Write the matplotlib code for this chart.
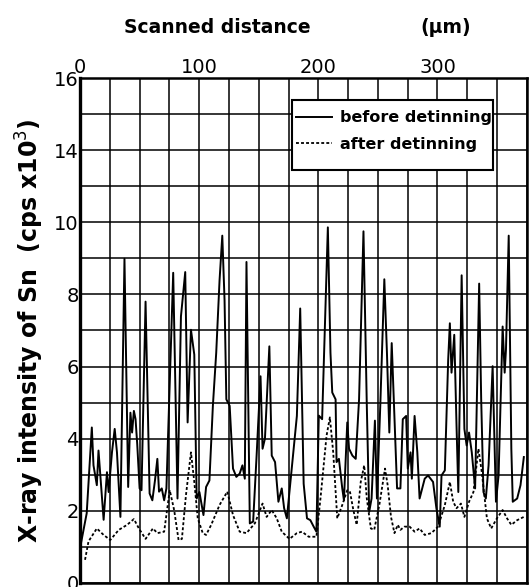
import matplotlib.pyplot as plt
from matplotlib.patches import Rectangle
import numpy as np

# scanned distance (um) and Sn intensity (cps x10^3)
x_before = [0, 5.6, 9.9, 11.3, 14.1, 15.5, 19.8, 22.6, 24.0, 26.8, 29.1, 31.0, 33.9, 37.3, 40.4,
            42.3, 43.7, 45.2, 46.6, 48.0, 50.0, 51.6, 55.0, 58.4, 60.7, 62.9, 64.9, 66.3, 68.6,
            70.6, 72.5, 78.2, 81.8, 84.7, 88.3, 90.3, 93.1, 95.9, 97.9, 100.2, 103.6, 105.8,
            108.6, 111.5, 114.3, 117.1, 119.4, 121.3, 122.8, 125.6, 128.4, 131.2, 134.0, 136.3,
            138.3, 139.7, 142.5, 145.3, 148.2, 151.5, 153.2, 155.2, 158.9, 160.9, 163.7, 166.5,
            169.3, 171.3, 173.6, 182.0, 184.8, 187.7, 190.5, 193.3, 196.1, 198.4, 200.4, 203.2,
            208.0, 210.2, 211.7, 214.5, 215.3, 217.3, 220.1, 221.5, 224.3, 225.8, 228.6, 231.4,
            234.2, 237.9, 240.7, 242.7, 244.7, 247.5, 249.2, 252.0, 255.4, 257.6, 259.6, 261.6,
            263.9, 266.1, 268.9, 270.9, 273.7, 275.1, 277.4, 278.5, 280.8, 283.1, 285.0, 289.3,
            292.1, 296.3, 299.1, 301.9, 303.4, 306.2, 309.0, 310.4, 311.8, 314.1, 316.0, 317.5,
            320.3, 322.6, 324.5, 326.5, 328.8, 331.6, 335.0, 336.7, 338.6, 340.6, 342.9, 346.3,
            349.1, 351.3, 354.7, 356.4, 357.5, 359.8, 362.0, 363.2, 366.9, 369.7, 372.5]
y_before = [0.96, 1.93, 4.31, 3.26, 2.71, 3.67, 1.75, 3.07, 2.52, 3.62, 4.27, 3.62, 1.83, 8.99, 2.66,
            4.72, 4.17, 4.77, 4.54, 3.85, 2.62, 2.57, 7.80, 2.48, 2.29, 2.84, 3.44, 2.53, 2.62,
            2.29, 2.62, 8.60, 2.34, 7.39, 8.62, 4.45, 7.02, 6.33, 2.34, 2.52, 1.88, 2.66,
            2.84, 4.91, 6.38, 8.39, 9.63, 7.84, 5.09, 4.91, 3.17, 2.94, 3.03, 3.26,
            2.89, 8.90, 1.65, 1.70, 3.53, 5.73, 3.72, 4.00, 6.56, 3.53, 3.35, 2.25,
            2.62, 2.07, 1.79, 4.63, 7.61, 2.75, 1.79, 1.74, 1.56, 1.42, 4.64, 4.54,
            9.86, 6.38, 5.28, 5.09, 3.35, 3.44, 2.62, 2.29, 4.45, 3.72, 3.53, 3.44,
            5.09, 9.75, 4.91, 1.97, 2.34, 4.50, 2.34, 4.91, 8.42, 6.38, 4.17, 6.65,
            4.63, 2.62, 2.62, 4.54, 4.63, 3.17, 3.62, 2.89, 4.63, 3.62, 2.34, 2.89,
            2.98, 2.80, 2.07, 1.56, 2.98, 3.12, 6.19, 7.20, 5.83, 6.88, 4.36, 2.52,
            8.53, 4.27, 3.81, 4.17, 3.62, 2.62, 8.30, 5.09, 2.52, 2.34, 3.26, 6.01,
            2.25, 2.98, 7.11, 5.83, 6.47, 9.63, 3.72, 2.25, 2.34, 2.71, 3.49]

x_after = [4.2, 7.1, 14.1, 19.8, 25.4, 32.5, 39.5, 45.2, 49.4, 55.0, 61.2, 64.9, 70.6, 75.3, 79.0,
           82.7, 85.5, 88.9, 93.1, 95.9, 98.8, 103.0, 105.8, 110.1, 117.1, 123.6, 128.4, 134.0,
           139.7, 146.7, 153.2, 156.6, 160.9, 165.1, 169.3, 175.8, 182.0, 186.3, 191.9, 198.4,
           201.8, 206.9, 209.7, 212.5, 215.9, 220.1, 224.3, 226.6, 229.4, 232.2, 235.6, 238.5,
           240.7, 244.1, 246.9, 251.2, 256.0, 258.2, 261.0, 263.9, 266.7, 268.9, 272.3, 276.6,
           280.8, 285.0, 289.3, 294.9, 300.5, 306.2, 310.4, 313.2, 316.0, 319.7, 322.6, 326.5,
           330.2, 334.4, 337.2, 341.5, 345.1, 349.9, 354.7, 358.4, 362.0, 366.9, 372.5]
y_after = [0.64, 1.15, 1.51, 1.33, 1.19, 1.47, 1.61, 1.77, 1.51, 1.22, 1.51, 1.38, 1.42, 2.57, 2.02,
           1.19, 1.22, 2.43, 3.62, 2.80, 1.79, 1.38, 1.33, 1.61, 2.16, 2.53, 1.88, 1.42,
           1.38, 1.65, 2.20, 1.83, 2.02, 1.79, 1.42, 1.22, 1.38, 1.42, 1.28, 1.28,
           2.34, 4.08, 4.59, 3.62, 1.79, 2.16, 2.57, 2.52, 2.02, 1.61, 2.80, 3.26,
           2.34, 1.51, 1.47, 2.16, 3.17, 2.71, 1.83, 1.38, 1.61, 1.47, 1.56, 1.56,
           1.42, 1.51, 1.33, 1.38, 1.56, 2.16, 2.80, 2.25, 2.07, 2.20, 1.83, 2.25,
           2.52, 3.72, 3.07, 1.79, 1.51, 1.79, 2.02, 1.79, 1.61, 1.74, 1.83]

# the printed axis skips 12: gridline 12 is labelled 14, gridline 14 is labelled 16
y_tick_labels = ['0', '2', '4', '6', '8', '10', '14', '16']
x_tick_labels = ['0', '100', '200', '300']

fig = plt.figure(figsize=(5.3, 5.87), dpi=100)
ax = fig.add_axes([0.151, 0.007, 0.843, 0.86])

ax.plot(x_before, y_before, c='k', lw=1.4, label='before detinning')
ax.plot(x_after, y_after, c='k', lw=1.3, ls=(0, (1.6, 1.2)), label='after detinning')

ax.set_xlim(0, 375)
ax.set_ylim(0, 14)
ax.set_xticks([0, 100, 200, 300])
ax.set_xticklabels(x_tick_labels)
ax.set_xticks(np.arange(0, 376, 25), minor=True)
ax.set_yticks(np.arange(0, 15, 2))
ax.set_yticklabels(y_tick_labels)
ax.set_yticks(np.arange(0, 15, 1), minor=True)
ax.xaxis.tick_top()
ax.tick_params(which='both', length=0, labelsize=14, pad=1)
ax.grid(True, which='both', color='k', lw=1.1)
ax.set_axisbelow(True)
for s in ax.spines.values():
    s.set_linewidth(1.8)
ax.spines['left'].set_linewidth(2.4)

ax.set_ylabel('X-ray intensity of Sn  (cps x10$^3$)', fontsize=17, fontweight='bold', labelpad=6)
fig.text(0.41, 0.954, 'Scanned distance', fontsize=13.5, fontweight='bold', ha='center', va='center')
fig.text(0.84, 0.954, '(\u03bcm)', fontsize=13.5, fontweight='bold', ha='center', va='center')

# legend box: white, text runs right up to the border as in the print
ax.add_patch(Rectangle((0.474, 0.818), 0.45, 0.138, transform=ax.transAxes,
                       facecolor='white', edgecolor='k', lw=1.5, zorder=4))
leg = ax.legend(loc='upper right', bbox_to_anchor=(0.921, 0.936), frameon=False,
                handlelength=2.3, handletextpad=0.45, borderpad=0, labelspacing=0.7,
                borderaxespad=0, prop={'weight': 'bold', 'size': 11.5})
leg.set_zorder(5)

fig.savefig('out.png', dpi=100)
